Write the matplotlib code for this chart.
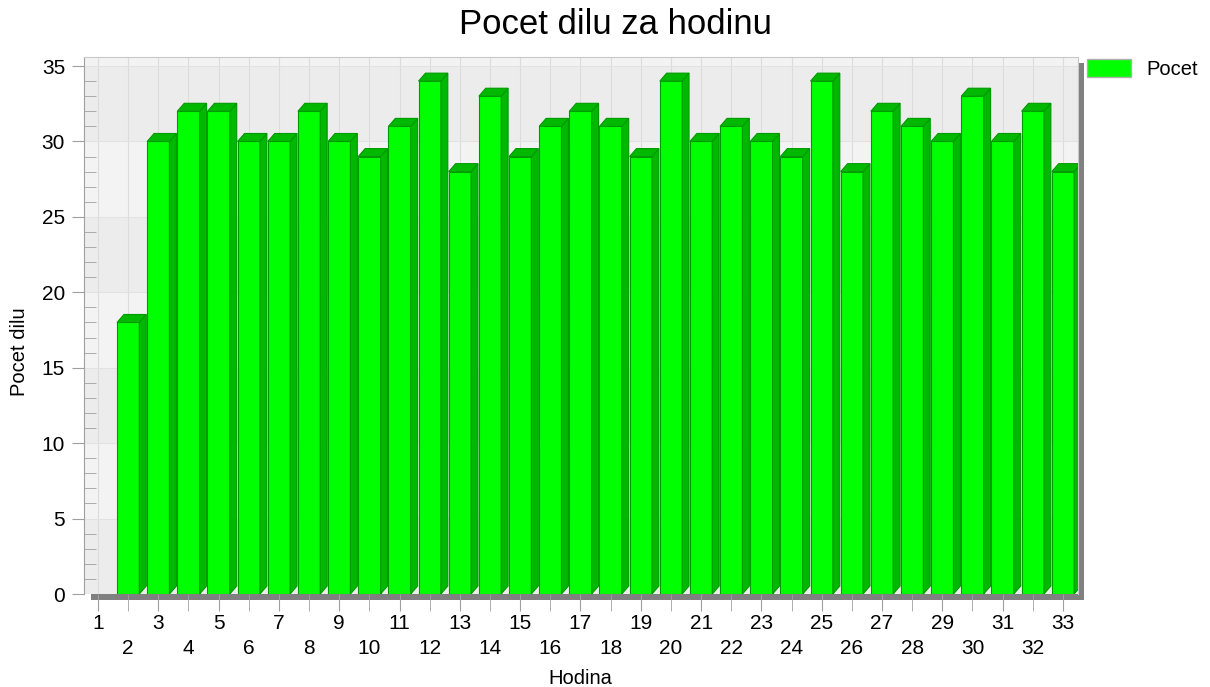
import matplotlib
matplotlib.use("Agg")
import matplotlib.pyplot as plt
from matplotlib.patches import Polygon, Rectangle, Patch

# data
hodina = list(range(1, 34))
pocet = [0, 18, 30, 32, 32, 30, 30, 32, 30, 29, 31, 34, 28, 33, 29, 31, 32,
         31, 29, 34, 30, 31, 30, 29, 34, 28, 32, 31, 30, 33, 30, 32, 28]

FRONT = "#00ff00"
SIDE = "#00b800"
EDGE = "#009a00"
TICK = "#a0a0a0"

plt.rcParams["font.family"] = ["Liberation Sans", "DejaVu Sans"]

W, H = 1210, 687
fig = plt.figure(figsize=(W / 100, H / 100), dpi=100)

# plot area in pixels: x 84..1078, y 57..594
ax = fig.add_axes([84 / W, 1 - 594 / H, (1078 - 84) / W, (594 - 57) / H])

# drop shadow of the plot area
fig.add_artist(Rectangle((91 / W, 1 - 600 / H), 993 / W, 537 / H,
                         transform=fig.transFigure, facecolor="#808080",
                         edgecolor="none", zorder=-1))

ax.set_facecolor("#f3f3f3")
for y0 in range(0, 35, 10):
    ax.axhspan(y0, y0 + 5, color="#ececec", zorder=0, lw=0)

ax.set_xlim(0.535, 33.5)
ax.set_ylim(0, 35.6)

# 3D-look bars
w, dx, dy = 0.74, 0.23, 0.53
xs = [x for x, v in zip(hodina, pocet) if v > 0]
vs = [v for v in pocet if v > 0]
ax.bar(xs, vs, width=w, color=FRONT, edgecolor=EDGE, linewidth=0.8, zorder=3)
for x, v in zip(xs, vs):
    r, l = x + w / 2, x - w / 2
    ax.add_patch(Polygon([(r, 0), (r + dx, dy), (r + dx, v + dy), (r, v)],
                         closed=True, facecolor=SIDE, edgecolor=EDGE,
                         linewidth=0.8, zorder=3))
    ax.add_patch(Polygon([(l, v), (l + dx, v + dy), (r + dx, v + dy), (r, v)],
                         closed=True, facecolor=SIDE, edgecolor=EDGE,
                         linewidth=0.8, zorder=3))

# x ticks: odd labels on first row, even on second row
ax.set_xticks(hodina[0::2])
ax.set_xticklabels([str(h) for h in hodina[0::2]])
ax.set_xticks(hodina[1::2], minor=True)
ax.set_xticklabels([str(h) for h in hodina[1::2]], minor=True)
ax.tick_params(axis="x", which="major", length=12, color=TICK, pad=2.5,
               labelsize=15)
ax.tick_params(axis="x", which="minor", length=12, color=TICK, pad=20.5,
               labelsize=15)

ax.set_yticks(range(0, 36, 5))
ax.set_yticks(range(0, 36), minor=True)
ax.tick_params(axis="y", which="major", direction="out", length=8.6,
               color=TICK, pad=5, labelsize=15)
ax.tick_params(axis="y", which="minor", direction="in", length=8.6,
               color=TICK)

ax.grid(True, axis="x", which="both", color="#dcdcdc", lw=0.8, zorder=1)
ax.grid(True, axis="y", which="major", color="#e2e2e2", lw=0.8, zorder=1)
ax.set_axisbelow(True)

ax.spines["left"].set_color(TICK)
ax.spines["top"].set_color("#c8c8c8")
ax.spines["right"].set_color("#c8c8c8")
ax.spines["bottom"].set_visible(False)

ax.set_xlabel("Hodina", fontsize=14.5)
ax.xaxis.label.set_va("center")
ax.xaxis.set_label_coords(0.499, (594 - 678) / 537)
ax.set_ylabel("Pocet dilu", fontsize=14.5)
ax.yaxis.label.set_va("center")
ax.yaxis.set_label_coords((20 - 84) / 994, (594 - 352) / 537)

fig.text(615 / W, 1 - 24 / H, "Pocet dilu za hodinu", ha="center",
         va="center", fontsize=25)

fig.legend(handles=[Patch(facecolor=FRONT, edgecolor="#b0b0b0")],
           labels=["Pocet"], loc="upper left",
           bbox_to_anchor=(1087 / W, 1 - 59 / H), frameon=False,
           fontsize=14.5, handlelength=2.2, handleheight=1.0,
           borderpad=0, borderaxespad=0, handletextpad=0.75)

fig.savefig("out.png", dpi=100)
